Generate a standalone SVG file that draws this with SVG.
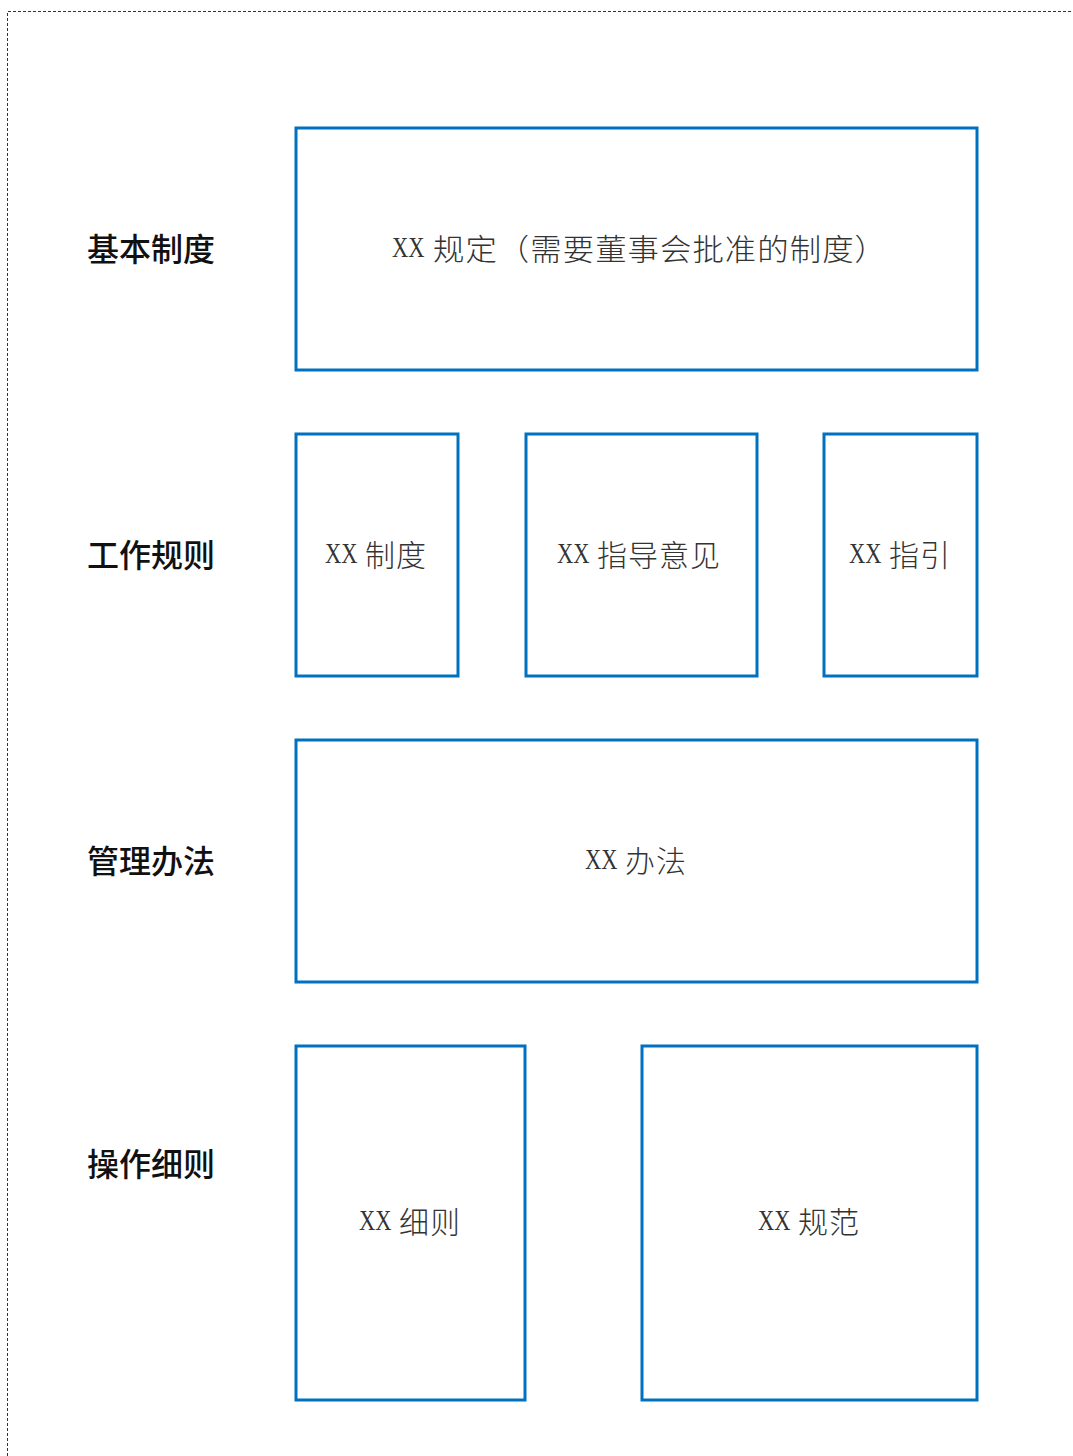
<svg xmlns="http://www.w3.org/2000/svg" width="1073" height="1456" viewBox="0 0 1073 1456">
<style>
.frame{fill:none;stroke:#333;stroke-width:1;stroke-dasharray:3 2}
.box{fill:#fff;stroke:#0070C0;stroke-width:3}
.lbl{font-family:"Noto Sans CJK SC",sans-serif;font-size:32px;font-weight:500;fill:#111;dominant-baseline:central}
.txt{font-family:"Noto Sans CJK SC",sans-serif;font-size:30px;font-weight:300;fill:#333;letter-spacing:1px;dominant-baseline:central}
.xx{font-family:"Liberation Serif",serif;font-size:30px;fill:#333;dominant-baseline:central}
</style>
<rect width="1073" height="1456" fill="#fff"/>
<path class="frame" d="M7.5,1456 V11.5 H1073"/>
<g id="labels">
<text class="lbl" x="87" y="247">基本制度</text>
<text class="lbl" x="87" y="553">工作规则</text>
<text class="lbl" x="87" y="859">管理办法</text>
<text class="lbl" x="87" y="1162">操作细则</text>
</g>
<g id="node-guiding">
<rect class="box" x="296" y="128" width="681" height="242"/>
<text class="xx" transform="translate(392,247) scale(0.75,1)">XX</text>
<text class="txt" x="433" y="247" textLength="454" lengthAdjust="spacingAndGlyphs">规定（需要董事会批准的制度）</text>
</g>
<g id="node-zhidu">
<rect class="box" x="296" y="434" width="162" height="242"/>
<text class="xx" transform="translate(325,553) scale(0.75,1)">XX</text>
<text class="txt" x="365" y="553">制度</text>
</g>
<g id="node-zhidao">
<rect class="box" x="526" y="434" width="231" height="242"/>
<text class="xx" transform="translate(557,553) scale(0.75,1)">XX</text>
<text class="txt" x="597" y="553">指导意见</text>
</g>
<g id="node-zhiyin">
<rect class="box" x="824" y="434" width="153" height="242"/>
<text class="xx" transform="translate(849,553) scale(0.75,1)">XX</text>
<text class="txt" x="889" y="553">指引</text>
</g>
<g id="node-banfa">
<rect class="box" x="296" y="740" width="681" height="242"/>
<text class="xx" transform="translate(585,859) scale(0.75,1)">XX</text>
<text class="txt" x="625" y="859">办法</text>
</g>
<g id="node-xize">
<rect class="box" x="296" y="1046" width="229" height="354"/>
<text class="xx" transform="translate(359,1220) scale(0.75,1)">XX</text>
<text class="txt" x="399" y="1220">细则</text>
</g>
<g id="node-guifan">
<rect class="box" x="642" y="1046" width="335" height="354"/>
<text class="xx" transform="translate(758,1220) scale(0.75,1)">XX</text>
<text class="txt" x="798" y="1220">规范</text>
</g>
<g id="connectors"/>
</svg>
